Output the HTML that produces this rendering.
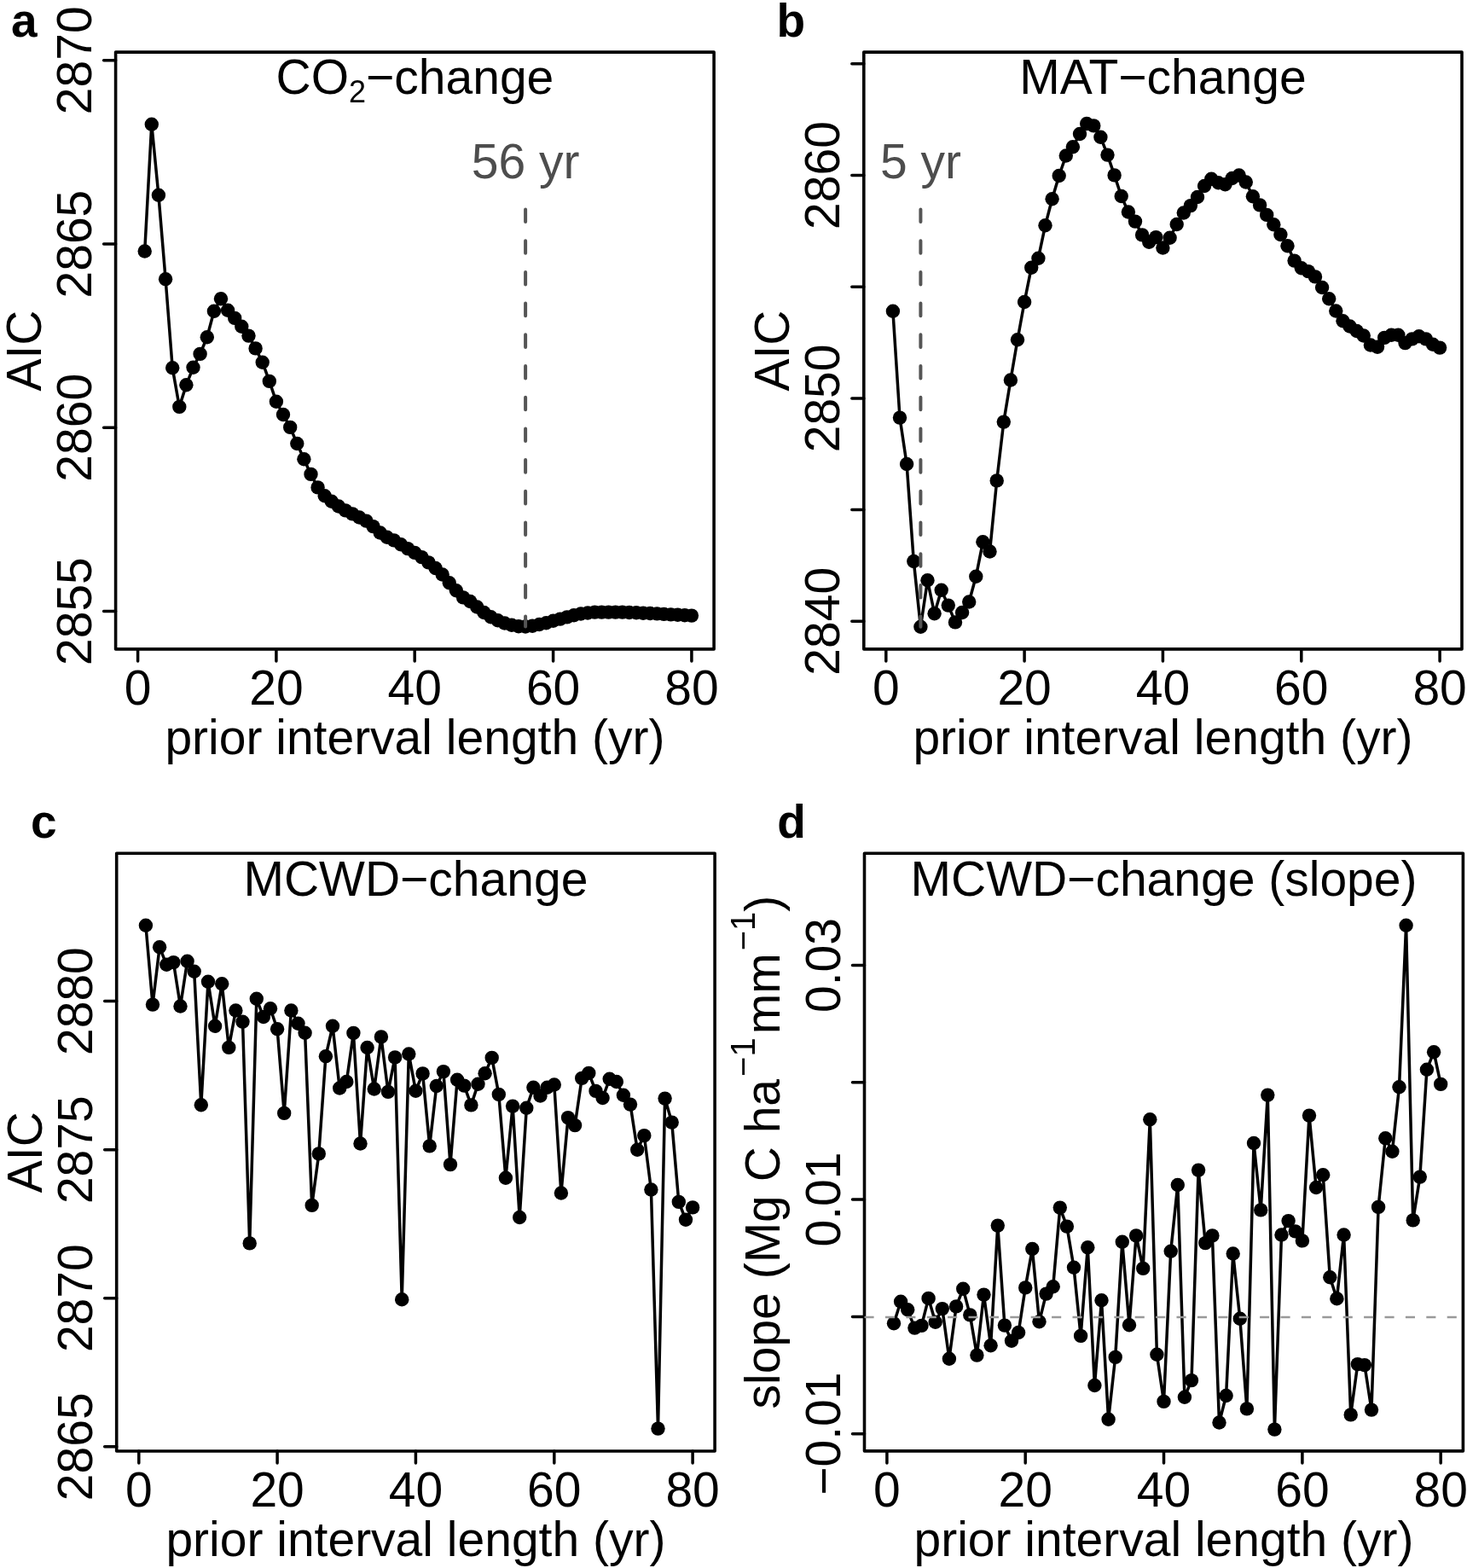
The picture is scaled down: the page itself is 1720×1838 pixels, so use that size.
<!DOCTYPE html>
<html><head><meta charset="utf-8"><title>AIC vs prior interval length</title><style>html,body{margin:0;padding:0;background:#fff}svg{display:block}</style></head><body>
<svg width="1720" height="1838" viewBox="0 0 1720 1838">
<style>text{font-family:"Liberation Sans",Arial,Helvetica,sans-serif;font-size:57px;fill:#000}.dl{fill:none;stroke:#000;stroke-width:3.5;stroke-linejoin:round;stroke-linecap:round}.pt circle{fill:#000}.bx{fill:none;stroke:#000;stroke-width:3.6;stroke-linejoin:round}.tk{fill:none;stroke:#000;stroke-width:3.5;stroke-linecap:round}.lb{font-weight:bold;font-size:55px}.gy{fill:#4d4d4d}</style>
<rect width="1720" height="1838" fill="#fff"/>
<polyline class="dl" points="169.7,294.5 177.8,145.7 185.9,228.8 194.1,327.2 202.2,431.2 210.3,476.9 218.4,451.2 226.5,430.8 234.6,414.9 242.8,395.3 250.9,364.8 259,350.2 267.1,363.7 275.2,372.9 283.3,382.7 291.5,393.6 299.6,408.4 307.7,424.7 315.8,446.9 323.9,470.8 332,486 340.2,500.9 348.3,520 356.4,538.3 364.5,555.9 372.6,571.4 380.7,581.2 388.8,587.8 397,593.5 405.1,598.4 413.2,602.4 421.3,606.5 429.4,610.6 437.5,617.1 445.7,624.5 453.8,629.8 461.9,633.4 470,638.3 478.1,643.1 486.2,647.9 494.4,653.1 502.5,659.4 510.6,666 518.7,673.5 526.8,683.3 534.9,692.2 543.1,700.4 551.2,705 559.3,711.5 567.4,718 575.5,723.2 583.6,727.2 591.7,730.5 599.9,732.8 608,734.2 616.1,734.5 624.2,733.8 632.3,732 640.4,730.2 648.6,727.8 656.7,725.6 664.8,723.4 672.9,721.3 681,719.5 689.1,718.5 697.3,717.6 705.4,717.6 713.5,717.6 721.6,717.6 729.7,717.6 737.8,718 746,718.3 754.1,718.7 762.2,719 770.3,719.4 778.4,719.9 786.5,720.4 794.6,720.8 802.8,721.3 810.9,721.6"/>
<g class="pt"><circle cx="169.7" cy="294.5" r="8.2"/><circle cx="177.8" cy="145.7" r="8.2"/><circle cx="185.9" cy="228.8" r="8.2"/><circle cx="194.1" cy="327.2" r="8.2"/><circle cx="202.2" cy="431.2" r="8.2"/><circle cx="210.3" cy="476.9" r="8.2"/><circle cx="218.4" cy="451.2" r="8.2"/><circle cx="226.5" cy="430.8" r="8.2"/><circle cx="234.6" cy="414.9" r="8.2"/><circle cx="242.8" cy="395.3" r="8.2"/><circle cx="250.9" cy="364.8" r="8.2"/><circle cx="259" cy="350.2" r="8.2"/><circle cx="267.1" cy="363.7" r="8.2"/><circle cx="275.2" cy="372.9" r="8.2"/><circle cx="283.3" cy="382.7" r="8.2"/><circle cx="291.5" cy="393.6" r="8.2"/><circle cx="299.6" cy="408.4" r="8.2"/><circle cx="307.7" cy="424.7" r="8.2"/><circle cx="315.8" cy="446.9" r="8.2"/><circle cx="323.9" cy="470.8" r="8.2"/><circle cx="332" cy="486" r="8.2"/><circle cx="340.2" cy="500.9" r="8.2"/><circle cx="348.3" cy="520" r="8.2"/><circle cx="356.4" cy="538.3" r="8.2"/><circle cx="364.5" cy="555.9" r="8.2"/><circle cx="372.6" cy="571.4" r="8.2"/><circle cx="380.7" cy="581.2" r="8.2"/><circle cx="388.8" cy="587.8" r="8.2"/><circle cx="397" cy="593.5" r="8.2"/><circle cx="405.1" cy="598.4" r="8.2"/><circle cx="413.2" cy="602.4" r="8.2"/><circle cx="421.3" cy="606.5" r="8.2"/><circle cx="429.4" cy="610.6" r="8.2"/><circle cx="437.5" cy="617.1" r="8.2"/><circle cx="445.7" cy="624.5" r="8.2"/><circle cx="453.8" cy="629.8" r="8.2"/><circle cx="461.9" cy="633.4" r="8.2"/><circle cx="470" cy="638.3" r="8.2"/><circle cx="478.1" cy="643.1" r="8.2"/><circle cx="486.2" cy="647.9" r="8.2"/><circle cx="494.4" cy="653.1" r="8.2"/><circle cx="502.5" cy="659.4" r="8.2"/><circle cx="510.6" cy="666" r="8.2"/><circle cx="518.7" cy="673.5" r="8.2"/><circle cx="526.8" cy="683.3" r="8.2"/><circle cx="534.9" cy="692.2" r="8.2"/><circle cx="543.1" cy="700.4" r="8.2"/><circle cx="551.2" cy="705" r="8.2"/><circle cx="559.3" cy="711.5" r="8.2"/><circle cx="567.4" cy="718" r="8.2"/><circle cx="575.5" cy="723.2" r="8.2"/><circle cx="583.6" cy="727.2" r="8.2"/><circle cx="591.7" cy="730.5" r="8.2"/><circle cx="599.9" cy="732.8" r="8.2"/><circle cx="608" cy="734.2" r="8.2"/><circle cx="616.1" cy="734.5" r="8.2"/><circle cx="624.2" cy="733.8" r="8.2"/><circle cx="632.3" cy="732" r="8.2"/><circle cx="640.4" cy="730.2" r="8.2"/><circle cx="648.6" cy="727.8" r="8.2"/><circle cx="656.7" cy="725.6" r="8.2"/><circle cx="664.8" cy="723.4" r="8.2"/><circle cx="672.9" cy="721.3" r="8.2"/><circle cx="681" cy="719.5" r="8.2"/><circle cx="689.1" cy="718.5" r="8.2"/><circle cx="697.3" cy="717.6" r="8.2"/><circle cx="705.4" cy="717.6" r="8.2"/><circle cx="713.5" cy="717.6" r="8.2"/><circle cx="721.6" cy="717.6" r="8.2"/><circle cx="729.7" cy="717.6" r="8.2"/><circle cx="737.8" cy="718" r="8.2"/><circle cx="746" cy="718.3" r="8.2"/><circle cx="754.1" cy="718.7" r="8.2"/><circle cx="762.2" cy="719" r="8.2"/><circle cx="770.3" cy="719.4" r="8.2"/><circle cx="778.4" cy="719.9" r="8.2"/><circle cx="786.5" cy="720.4" r="8.2"/><circle cx="794.6" cy="720.8" r="8.2"/><circle cx="802.8" cy="721.3" r="8.2"/><circle cx="810.9" cy="721.6" r="8.2"/></g>
<rect class="bx" x="135.6" y="61.1" width="701.5" height="699.8"/>
<path class="tk" d="M161.6 760.9V774.9M323.9 760.9V774.9M486.2 760.9V774.9M648.6 760.9V774.9M810.9 760.9V774.9M135.6 70.8H121.6M135.6 286.1H121.6M135.6 501.3H121.6M135.6 716.6H121.6"/>
<text x="161.6" y="825.5" text-anchor="middle">0</text>
<text x="323.9" y="825.5" text-anchor="middle">20</text>
<text x="486.2" y="825.5" text-anchor="middle">40</text>
<text x="648.6" y="825.5" text-anchor="middle">60</text>
<text x="810.9" y="825.5" text-anchor="middle">80</text>
<text transform="translate(106.7 70.8) rotate(-90)" text-anchor="middle">2870</text>
<text transform="translate(106.7 286.1) rotate(-90)" text-anchor="middle">2865</text>
<text transform="translate(106.7 501.3) rotate(-90)" text-anchor="middle">2860</text>
<text transform="translate(106.7 716.6) rotate(-90)" text-anchor="middle">2855</text>
<text x="486.4" y="883.7" text-anchor="middle">prior interval length (yr)</text>
<text transform="translate(48.1 411) rotate(-90)" text-anchor="middle">AIC</text>
<text x="486.4" y="110.3" text-anchor="middle">CO<tspan font-size="36" dy="10">2</tspan><tspan dy="-10">−change</tspan></text>
<polyline class="dl" points="1046.9,364.7 1055,489.6 1063.1,544 1071.3,658 1079.4,734.7 1087.5,680.3 1095.6,719.2 1103.7,691.8 1111.8,709.6 1120,729.4 1128.1,718 1136.2,705.5 1144.3,675.8 1152.4,635.3 1160.5,646.5 1168.7,563.4 1176.8,494.6 1184.9,445.5 1193,398.3 1201.1,354 1209.2,313.8 1217.4,302.7 1225.5,264.3 1233.6,233.2 1241.7,206 1249.8,182.5 1257.9,172.2 1266,157 1274.2,145 1282.3,147.4 1290.4,160.7 1298.5,181.6 1306.6,205.4 1314.7,230 1322.9,248.5 1331,259.6 1339.1,275.4 1347.2,283.7 1355.3,278.1 1363.4,290.5 1371.6,278.7 1379.7,263 1387.8,249.5 1395.9,241.1 1404,231 1412.1,218 1420.3,209.7 1428.4,214.3 1436.5,216.2 1444.6,209 1452.7,205.5 1460.8,213.5 1468.9,230.2 1477.1,240.4 1485.2,251.9 1493.3,263.2 1501.4,275 1509.5,288.3 1517.6,305.6 1525.8,314.2 1533.9,318.1 1542,324.4 1550.1,337 1558.2,350.3 1566.3,364.5 1574.5,376.2 1582.6,382.5 1590.7,388 1598.8,393.5 1606.9,404.5 1615,406.8 1623.2,395.9 1631.3,392.7 1639.4,392.7 1647.5,402.1 1655.6,397.4 1663.7,394.3 1671.8,397.4 1680,403.7 1688.1,407.6"/>
<g class="pt"><circle cx="1046.9" cy="364.7" r="8.2"/><circle cx="1055" cy="489.6" r="8.2"/><circle cx="1063.1" cy="544" r="8.2"/><circle cx="1071.3" cy="658" r="8.2"/><circle cx="1079.4" cy="734.7" r="8.2"/><circle cx="1087.5" cy="680.3" r="8.2"/><circle cx="1095.6" cy="719.2" r="8.2"/><circle cx="1103.7" cy="691.8" r="8.2"/><circle cx="1111.8" cy="709.6" r="8.2"/><circle cx="1120" cy="729.4" r="8.2"/><circle cx="1128.1" cy="718" r="8.2"/><circle cx="1136.2" cy="705.5" r="8.2"/><circle cx="1144.3" cy="675.8" r="8.2"/><circle cx="1152.4" cy="635.3" r="8.2"/><circle cx="1160.5" cy="646.5" r="8.2"/><circle cx="1168.7" cy="563.4" r="8.2"/><circle cx="1176.8" cy="494.6" r="8.2"/><circle cx="1184.9" cy="445.5" r="8.2"/><circle cx="1193" cy="398.3" r="8.2"/><circle cx="1201.1" cy="354" r="8.2"/><circle cx="1209.2" cy="313.8" r="8.2"/><circle cx="1217.4" cy="302.7" r="8.2"/><circle cx="1225.5" cy="264.3" r="8.2"/><circle cx="1233.6" cy="233.2" r="8.2"/><circle cx="1241.7" cy="206" r="8.2"/><circle cx="1249.8" cy="182.5" r="8.2"/><circle cx="1257.9" cy="172.2" r="8.2"/><circle cx="1266" cy="157" r="8.2"/><circle cx="1274.2" cy="145" r="8.2"/><circle cx="1282.3" cy="147.4" r="8.2"/><circle cx="1290.4" cy="160.7" r="8.2"/><circle cx="1298.5" cy="181.6" r="8.2"/><circle cx="1306.6" cy="205.4" r="8.2"/><circle cx="1314.7" cy="230" r="8.2"/><circle cx="1322.9" cy="248.5" r="8.2"/><circle cx="1331" cy="259.6" r="8.2"/><circle cx="1339.1" cy="275.4" r="8.2"/><circle cx="1347.2" cy="283.7" r="8.2"/><circle cx="1355.3" cy="278.1" r="8.2"/><circle cx="1363.4" cy="290.5" r="8.2"/><circle cx="1371.6" cy="278.7" r="8.2"/><circle cx="1379.7" cy="263" r="8.2"/><circle cx="1387.8" cy="249.5" r="8.2"/><circle cx="1395.9" cy="241.1" r="8.2"/><circle cx="1404" cy="231" r="8.2"/><circle cx="1412.1" cy="218" r="8.2"/><circle cx="1420.3" cy="209.7" r="8.2"/><circle cx="1428.4" cy="214.3" r="8.2"/><circle cx="1436.5" cy="216.2" r="8.2"/><circle cx="1444.6" cy="209" r="8.2"/><circle cx="1452.7" cy="205.5" r="8.2"/><circle cx="1460.8" cy="213.5" r="8.2"/><circle cx="1468.9" cy="230.2" r="8.2"/><circle cx="1477.1" cy="240.4" r="8.2"/><circle cx="1485.2" cy="251.9" r="8.2"/><circle cx="1493.3" cy="263.2" r="8.2"/><circle cx="1501.4" cy="275" r="8.2"/><circle cx="1509.5" cy="288.3" r="8.2"/><circle cx="1517.6" cy="305.6" r="8.2"/><circle cx="1525.8" cy="314.2" r="8.2"/><circle cx="1533.9" cy="318.1" r="8.2"/><circle cx="1542" cy="324.4" r="8.2"/><circle cx="1550.1" cy="337" r="8.2"/><circle cx="1558.2" cy="350.3" r="8.2"/><circle cx="1566.3" cy="364.5" r="8.2"/><circle cx="1574.5" cy="376.2" r="8.2"/><circle cx="1582.6" cy="382.5" r="8.2"/><circle cx="1590.7" cy="388" r="8.2"/><circle cx="1598.8" cy="393.5" r="8.2"/><circle cx="1606.9" cy="404.5" r="8.2"/><circle cx="1615" cy="406.8" r="8.2"/><circle cx="1623.2" cy="395.9" r="8.2"/><circle cx="1631.3" cy="392.7" r="8.2"/><circle cx="1639.4" cy="392.7" r="8.2"/><circle cx="1647.5" cy="402.1" r="8.2"/><circle cx="1655.6" cy="397.4" r="8.2"/><circle cx="1663.7" cy="394.3" r="8.2"/><circle cx="1671.8" cy="397.4" r="8.2"/><circle cx="1680" cy="403.7" r="8.2"/><circle cx="1688.1" cy="407.6" r="8.2"/></g>
<rect class="bx" x="1012.8" y="61.1" width="701.2" height="699.8"/>
<path class="tk" d="M1038.8 760.9V774.9M1201.1 760.9V774.9M1363.4 760.9V774.9M1525.8 760.9V774.9M1688.1 760.9V774.9M1012.8 74.8H998.8M1012.8 205.5H998.8M1012.8 336.2H998.8M1012.8 466.9H998.8M1012.8 597.6H998.8M1012.8 728.3H998.8"/>
<text x="1038.8" y="825.5" text-anchor="middle">0</text>
<text x="1201.1" y="825.5" text-anchor="middle">20</text>
<text x="1363.4" y="825.5" text-anchor="middle">40</text>
<text x="1525.8" y="825.5" text-anchor="middle">60</text>
<text x="1688.1" y="825.5" text-anchor="middle">80</text>
<text transform="translate(983.9 205.5) rotate(-90)" text-anchor="middle">2860</text>
<text transform="translate(983.9 466.9) rotate(-90)" text-anchor="middle">2850</text>
<text transform="translate(983.9 728.3) rotate(-90)" text-anchor="middle">2840</text>
<text x="1363.4" y="883.7" text-anchor="middle">prior interval length (yr)</text>
<text transform="translate(925.3 411) rotate(-90)" text-anchor="middle">AIC</text>
<text x="1363.4" y="110.3" text-anchor="middle">MAT−change</text>
<polyline class="dl" points="170.9,1084.7 179,1177.6 187.1,1110.3 195.3,1130.8 203.4,1128.1 211.5,1179.5 219.6,1126.7 227.7,1138.8 235.8,1295.3 244,1150.7 252.1,1202.8 260.2,1153.2 268.3,1227.9 276.4,1184.5 284.5,1197.7 292.7,1457.4 300.8,1170.8 308.9,1192 317,1182.2 325.1,1206.2 333.2,1304.9 341.4,1184.5 349.5,1199.8 357.6,1210.8 365.7,1412.9 373.8,1352.4 381.9,1238.2 390,1202.8 398.2,1275.5 406.3,1268 414.4,1210.9 422.5,1340.5 430.6,1228 438.7,1276.5 446.9,1215.4 455,1279.9 463.1,1239.4 471.2,1523.3 479.3,1235.5 487.4,1278.7 495.6,1258.4 503.7,1343.4 511.8,1273 519.9,1256.1 528,1365.1 536.1,1265.7 544.3,1272.6 552.4,1295.4 560.5,1270.7 568.6,1258.2 576.7,1239.9 584.8,1282.9 592.9,1380.7 601.1,1296.6 609.2,1427 617.3,1298.8 625.4,1274.8 633.5,1284.5 641.6,1274.8 649.8,1271.5 657.9,1398.5 666,1310.1 674.1,1319.1 682.2,1263.9 690.3,1257.9 698.5,1278.9 706.6,1287 714.7,1264.7 722.8,1268 730.9,1283.8 739,1294.6 747.2,1347.7 755.3,1331.1 763.4,1394.5 771.5,1674.6 779.6,1287.6 787.7,1315.6 795.8,1408.9 804,1429.8 812.1,1415.4"/>
<g class="pt"><circle cx="170.9" cy="1084.7" r="8.2"/><circle cx="179" cy="1177.6" r="8.2"/><circle cx="187.1" cy="1110.3" r="8.2"/><circle cx="195.3" cy="1130.8" r="8.2"/><circle cx="203.4" cy="1128.1" r="8.2"/><circle cx="211.5" cy="1179.5" r="8.2"/><circle cx="219.6" cy="1126.7" r="8.2"/><circle cx="227.7" cy="1138.8" r="8.2"/><circle cx="235.8" cy="1295.3" r="8.2"/><circle cx="244" cy="1150.7" r="8.2"/><circle cx="252.1" cy="1202.8" r="8.2"/><circle cx="260.2" cy="1153.2" r="8.2"/><circle cx="268.3" cy="1227.9" r="8.2"/><circle cx="276.4" cy="1184.5" r="8.2"/><circle cx="284.5" cy="1197.7" r="8.2"/><circle cx="292.7" cy="1457.4" r="8.2"/><circle cx="300.8" cy="1170.8" r="8.2"/><circle cx="308.9" cy="1192" r="8.2"/><circle cx="317" cy="1182.2" r="8.2"/><circle cx="325.1" cy="1206.2" r="8.2"/><circle cx="333.2" cy="1304.9" r="8.2"/><circle cx="341.4" cy="1184.5" r="8.2"/><circle cx="349.5" cy="1199.8" r="8.2"/><circle cx="357.6" cy="1210.8" r="8.2"/><circle cx="365.7" cy="1412.9" r="8.2"/><circle cx="373.8" cy="1352.4" r="8.2"/><circle cx="381.9" cy="1238.2" r="8.2"/><circle cx="390" cy="1202.8" r="8.2"/><circle cx="398.2" cy="1275.5" r="8.2"/><circle cx="406.3" cy="1268" r="8.2"/><circle cx="414.4" cy="1210.9" r="8.2"/><circle cx="422.5" cy="1340.5" r="8.2"/><circle cx="430.6" cy="1228" r="8.2"/><circle cx="438.7" cy="1276.5" r="8.2"/><circle cx="446.9" cy="1215.4" r="8.2"/><circle cx="455" cy="1279.9" r="8.2"/><circle cx="463.1" cy="1239.4" r="8.2"/><circle cx="471.2" cy="1523.3" r="8.2"/><circle cx="479.3" cy="1235.5" r="8.2"/><circle cx="487.4" cy="1278.7" r="8.2"/><circle cx="495.6" cy="1258.4" r="8.2"/><circle cx="503.7" cy="1343.4" r="8.2"/><circle cx="511.8" cy="1273" r="8.2"/><circle cx="519.9" cy="1256.1" r="8.2"/><circle cx="528" cy="1365.1" r="8.2"/><circle cx="536.1" cy="1265.7" r="8.2"/><circle cx="544.3" cy="1272.6" r="8.2"/><circle cx="552.4" cy="1295.4" r="8.2"/><circle cx="560.5" cy="1270.7" r="8.2"/><circle cx="568.6" cy="1258.2" r="8.2"/><circle cx="576.7" cy="1239.9" r="8.2"/><circle cx="584.8" cy="1282.9" r="8.2"/><circle cx="592.9" cy="1380.7" r="8.2"/><circle cx="601.1" cy="1296.6" r="8.2"/><circle cx="609.2" cy="1427" r="8.2"/><circle cx="617.3" cy="1298.8" r="8.2"/><circle cx="625.4" cy="1274.8" r="8.2"/><circle cx="633.5" cy="1284.5" r="8.2"/><circle cx="641.6" cy="1274.8" r="8.2"/><circle cx="649.8" cy="1271.5" r="8.2"/><circle cx="657.9" cy="1398.5" r="8.2"/><circle cx="666" cy="1310.1" r="8.2"/><circle cx="674.1" cy="1319.1" r="8.2"/><circle cx="682.2" cy="1263.9" r="8.2"/><circle cx="690.3" cy="1257.9" r="8.2"/><circle cx="698.5" cy="1278.9" r="8.2"/><circle cx="706.6" cy="1287" r="8.2"/><circle cx="714.7" cy="1264.7" r="8.2"/><circle cx="722.8" cy="1268" r="8.2"/><circle cx="730.9" cy="1283.8" r="8.2"/><circle cx="739" cy="1294.6" r="8.2"/><circle cx="747.2" cy="1347.7" r="8.2"/><circle cx="755.3" cy="1331.1" r="8.2"/><circle cx="763.4" cy="1394.5" r="8.2"/><circle cx="771.5" cy="1674.6" r="8.2"/><circle cx="779.6" cy="1287.6" r="8.2"/><circle cx="787.7" cy="1315.6" r="8.2"/><circle cx="795.8" cy="1408.9" r="8.2"/><circle cx="804" cy="1429.8" r="8.2"/><circle cx="812.1" cy="1415.4" r="8.2"/></g>
<rect class="bx" x="136.7" y="1000.3" width="701.4" height="700.7"/>
<path class="tk" d="M162.8 1701V1715M325.1 1701V1715M487.4 1701V1715M649.8 1701V1715M812.1 1701V1715M136.7 1173.6H122.7M136.7 1347.7H122.7M136.7 1521.7H122.7M136.7 1695.8H122.7"/>
<text x="162.8" y="1765.6" text-anchor="middle">0</text>
<text x="325.1" y="1765.6" text-anchor="middle">20</text>
<text x="487.4" y="1765.6" text-anchor="middle">40</text>
<text x="649.8" y="1765.6" text-anchor="middle">60</text>
<text x="812.1" y="1765.6" text-anchor="middle">80</text>
<text transform="translate(107.8 1173.6) rotate(-90)" text-anchor="middle">2880</text>
<text transform="translate(107.8 1347.7) rotate(-90)" text-anchor="middle">2875</text>
<text transform="translate(107.8 1521.7) rotate(-90)" text-anchor="middle">2870</text>
<text transform="translate(107.8 1695.8) rotate(-90)" text-anchor="middle">2865</text>
<text x="487.4" y="1823.8" text-anchor="middle">prior interval length (yr)</text>
<text transform="translate(49.2 1350.7) rotate(-90)" text-anchor="middle">AIC</text>
<text x="487.4" y="1049.5" text-anchor="middle">MCWD−change</text>
<polyline class="dl" points="1048,1551.3 1056.1,1525.7 1064.2,1535.3 1072.4,1556.6 1080.5,1553.9 1088.6,1521.9 1096.7,1549.8 1104.8,1534.1 1112.9,1592.8 1121.1,1531.4 1129.2,1510.8 1137.3,1541.4 1145.4,1588.6 1153.5,1517.6 1161.6,1577.2 1169.8,1436.6 1177.9,1553.6 1186,1571.7 1194.1,1562 1202.2,1509.4 1210.3,1464 1218.5,1549.3 1226.6,1516.6 1234.7,1508.2 1242.8,1415.6 1250.9,1437.6 1259,1485.7 1267.1,1565.9 1275.3,1462.3 1283.4,1624 1291.5,1524.3 1299.6,1663.8 1307.7,1590.9 1315.8,1455.8 1324,1553.3 1332.1,1448.4 1340.2,1486.9 1348.3,1312.2 1356.4,1587.7 1364.5,1642.9 1372.7,1466.7 1380.8,1389 1388.9,1637.7 1397,1618.1 1405.1,1371.6 1413.2,1457.1 1421.4,1448.4 1429.5,1667.5 1437.6,1636 1445.7,1469.5 1453.8,1545.7 1461.9,1651.4 1470,1340 1478.2,1418.4 1486.3,1283.6 1494.4,1675.6 1502.5,1447.5 1510.6,1431.1 1518.7,1443.4 1526.9,1454.4 1535,1307.6 1543.1,1392 1551.2,1377.2 1559.3,1497.2 1567.4,1522.3 1575.6,1447.5 1583.7,1658.4 1591.8,1599.1 1599.9,1600.1 1608,1652.6 1616.1,1414.9 1624.3,1334.3 1632.4,1349.8 1640.5,1274.3 1648.6,1084.7 1656.7,1430.4 1664.8,1379.6 1672.9,1253.8 1681.1,1233.2 1689.2,1270.9"/>
<g class="pt"><circle cx="1048" cy="1551.3" r="8.2"/><circle cx="1056.1" cy="1525.7" r="8.2"/><circle cx="1064.2" cy="1535.3" r="8.2"/><circle cx="1072.4" cy="1556.6" r="8.2"/><circle cx="1080.5" cy="1553.9" r="8.2"/><circle cx="1088.6" cy="1521.9" r="8.2"/><circle cx="1096.7" cy="1549.8" r="8.2"/><circle cx="1104.8" cy="1534.1" r="8.2"/><circle cx="1112.9" cy="1592.8" r="8.2"/><circle cx="1121.1" cy="1531.4" r="8.2"/><circle cx="1129.2" cy="1510.8" r="8.2"/><circle cx="1137.3" cy="1541.4" r="8.2"/><circle cx="1145.4" cy="1588.6" r="8.2"/><circle cx="1153.5" cy="1517.6" r="8.2"/><circle cx="1161.6" cy="1577.2" r="8.2"/><circle cx="1169.8" cy="1436.6" r="8.2"/><circle cx="1177.9" cy="1553.6" r="8.2"/><circle cx="1186" cy="1571.7" r="8.2"/><circle cx="1194.1" cy="1562" r="8.2"/><circle cx="1202.2" cy="1509.4" r="8.2"/><circle cx="1210.3" cy="1464" r="8.2"/><circle cx="1218.5" cy="1549.3" r="8.2"/><circle cx="1226.6" cy="1516.6" r="8.2"/><circle cx="1234.7" cy="1508.2" r="8.2"/><circle cx="1242.8" cy="1415.6" r="8.2"/><circle cx="1250.9" cy="1437.6" r="8.2"/><circle cx="1259" cy="1485.7" r="8.2"/><circle cx="1267.1" cy="1565.9" r="8.2"/><circle cx="1275.3" cy="1462.3" r="8.2"/><circle cx="1283.4" cy="1624" r="8.2"/><circle cx="1291.5" cy="1524.3" r="8.2"/><circle cx="1299.6" cy="1663.8" r="8.2"/><circle cx="1307.7" cy="1590.9" r="8.2"/><circle cx="1315.8" cy="1455.8" r="8.2"/><circle cx="1324" cy="1553.3" r="8.2"/><circle cx="1332.1" cy="1448.4" r="8.2"/><circle cx="1340.2" cy="1486.9" r="8.2"/><circle cx="1348.3" cy="1312.2" r="8.2"/><circle cx="1356.4" cy="1587.7" r="8.2"/><circle cx="1364.5" cy="1642.9" r="8.2"/><circle cx="1372.7" cy="1466.7" r="8.2"/><circle cx="1380.8" cy="1389" r="8.2"/><circle cx="1388.9" cy="1637.7" r="8.2"/><circle cx="1397" cy="1618.1" r="8.2"/><circle cx="1405.1" cy="1371.6" r="8.2"/><circle cx="1413.2" cy="1457.1" r="8.2"/><circle cx="1421.4" cy="1448.4" r="8.2"/><circle cx="1429.5" cy="1667.5" r="8.2"/><circle cx="1437.6" cy="1636" r="8.2"/><circle cx="1445.7" cy="1469.5" r="8.2"/><circle cx="1453.8" cy="1545.7" r="8.2"/><circle cx="1461.9" cy="1651.4" r="8.2"/><circle cx="1470" cy="1340" r="8.2"/><circle cx="1478.2" cy="1418.4" r="8.2"/><circle cx="1486.3" cy="1283.6" r="8.2"/><circle cx="1494.4" cy="1675.6" r="8.2"/><circle cx="1502.5" cy="1447.5" r="8.2"/><circle cx="1510.6" cy="1431.1" r="8.2"/><circle cx="1518.7" cy="1443.4" r="8.2"/><circle cx="1526.9" cy="1454.4" r="8.2"/><circle cx="1535" cy="1307.6" r="8.2"/><circle cx="1543.1" cy="1392" r="8.2"/><circle cx="1551.2" cy="1377.2" r="8.2"/><circle cx="1559.3" cy="1497.2" r="8.2"/><circle cx="1567.4" cy="1522.3" r="8.2"/><circle cx="1575.6" cy="1447.5" r="8.2"/><circle cx="1583.7" cy="1658.4" r="8.2"/><circle cx="1591.8" cy="1599.1" r="8.2"/><circle cx="1599.9" cy="1600.1" r="8.2"/><circle cx="1608" cy="1652.6" r="8.2"/><circle cx="1616.1" cy="1414.9" r="8.2"/><circle cx="1624.3" cy="1334.3" r="8.2"/><circle cx="1632.4" cy="1349.8" r="8.2"/><circle cx="1640.5" cy="1274.3" r="8.2"/><circle cx="1648.6" cy="1084.7" r="8.2"/><circle cx="1656.7" cy="1430.4" r="8.2"/><circle cx="1664.8" cy="1379.6" r="8.2"/><circle cx="1672.9" cy="1253.8" r="8.2"/><circle cx="1681.1" cy="1233.2" r="8.2"/><circle cx="1689.2" cy="1270.9" r="8.2"/></g>
<rect class="bx" x="1013.5" y="1000.3" width="701.9" height="700.6"/>
<path class="tk" d="M1039.9 1700.9V1714.9M1202.2 1700.9V1714.9M1364.5 1700.9V1714.9M1526.9 1700.9V1714.9M1689.2 1700.9V1714.9M1013.5 1131.5H999.5M1013.5 1268.8H999.5M1013.5 1406.1H999.5M1013.5 1543.4H999.5M1013.5 1680.7H999.5"/>
<text x="1039.9" y="1765.5" text-anchor="middle">0</text>
<text x="1202.2" y="1765.5" text-anchor="middle">20</text>
<text x="1364.5" y="1765.5" text-anchor="middle">40</text>
<text x="1526.9" y="1765.5" text-anchor="middle">60</text>
<text x="1689.2" y="1765.5" text-anchor="middle">80</text>
<text transform="translate(984.6 1131.5) rotate(-90)" text-anchor="middle">0.03</text>
<text transform="translate(984.6 1406.1) rotate(-90)" text-anchor="middle">0.01</text>
<text transform="translate(984.6 1680.7) rotate(-90)" text-anchor="middle">−0.01</text>
<text x="1364.5" y="1823.7" text-anchor="middle">prior interval length (yr)</text>
<text transform="translate(913.8 1350.6) rotate(-90)" text-anchor="middle">slope (Mg C ha<tspan font-size="40" dx="3" dy="-28.5">−1</tspan><tspan dx="4" dy="28.5">mm</tspan><tspan font-size="40" dx="3" dy="-28.5">−1</tspan><tspan dy="28.5">)</tspan></text>
<text x="1364.5" y="1049.5" text-anchor="middle">MCWD−change (slope)</text>
<line x1="616.1" y1="245.5" x2="616.1" y2="734.5" stroke="#555" stroke-width="4" stroke-dasharray="14.6 22.1" stroke-linecap="round"/>
<line x1="1079.4" y1="245.5" x2="1079.4" y2="734.7" stroke="#555" stroke-width="4" stroke-dasharray="14.6 22.1" stroke-linecap="round"/>
<line x1="1013.5" y1="1544" x2="1715.4" y2="1544" stroke="#999" stroke-width="2.4" stroke-dasharray="11.1 13.3"/>
<text class="gy" x="616.1" y="209.4" text-anchor="middle">56 yr</text>
<text class="gy" x="1079.4" y="209.2" text-anchor="middle">5 yr</text>
<text class="lb" x="13" y="42.8">a</text>
<text class="lb" x="910.5" y="42.6">b</text>
<text class="lb" x="36" y="982">c</text>
<text class="lb" x="911.3" y="982">d</text>
</svg>
</body></html>
